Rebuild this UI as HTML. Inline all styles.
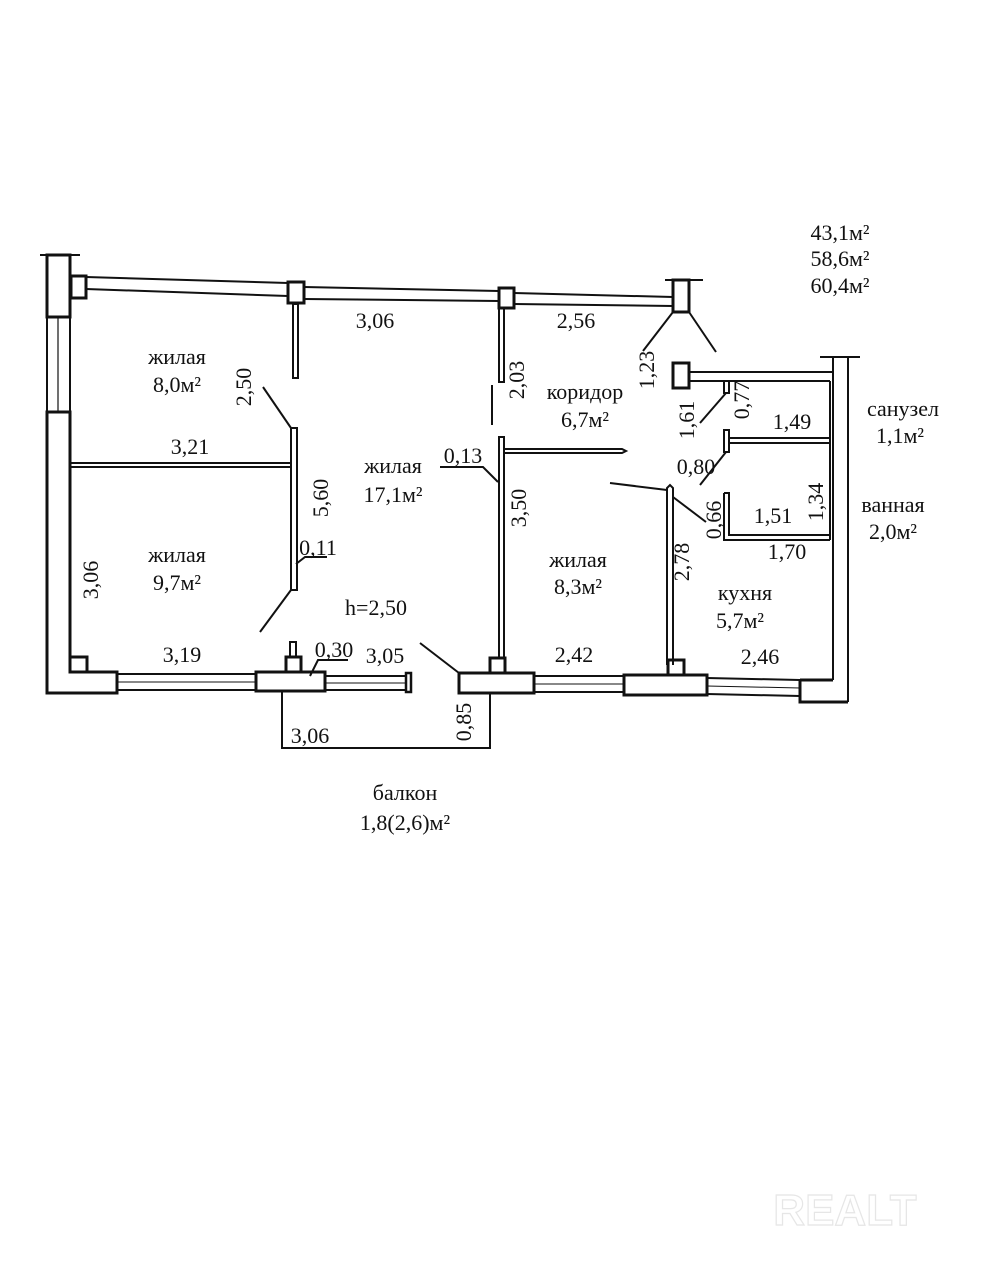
<!DOCTYPE html>
<html><head><meta charset="utf-8"><style>
html,body{margin:0;padding:0;background:#fff;}
svg{display:block}
text{font-family:"Liberation Serif",serif;font-size:22px;fill:#111;}
</style></head><body>
<svg width="988" height="1280" viewBox="0 0 988 1280" xmlns="http://www.w3.org/2000/svg">
<g stroke="#111" stroke-width="2" fill="none">
<line x1="40" y1="255" x2="80" y2="255"/>
<rect x="47" y="255" width="23" height="62" fill="#fff" stroke-width="3"/>
<line x1="47" y1="317" x2="47" y2="412"/><line x1="70" y1="317" x2="70" y2="412"/><line x1="58" y1="317" x2="58" y2="412" stroke-width="1.2"/>
<path d="M47 412 H70 V672 H117 V693 H47 Z" fill="#fff" stroke-width="3"/>
<rect x="70" y="657" width="17" height="15" stroke-width="3"/>
<rect x="71" y="276" width="15" height="22" stroke-width="3"/>
<line x1="86" y1="277" x2="288" y2="283"/><line x1="86" y1="289" x2="288" y2="296"/>
<rect x="288" y="282" width="16" height="21" stroke-width="3"/>
<line x1="304" y1="287" x2="499" y2="291"/><line x1="304" y1="299" x2="499" y2="301"/>
<rect x="499" y="288" width="15" height="20" stroke-width="3"/>
<line x1="514" y1="293" x2="673" y2="297"/><line x1="514" y1="304" x2="673" y2="306"/>
<line x1="665" y1="280" x2="703" y2="280"/>
<rect x="673" y="280" width="16" height="32" stroke-width="3"/>
<line x1="673" y1="312" x2="643" y2="351"/><line x1="689" y1="312" x2="716" y2="352"/>
<rect x="293" y="304" width="5" height="74"/>
<rect x="499" y="308" width="5" height="74"/>
<line x1="492" y1="385" x2="492" y2="425"/>
<line x1="70" y1="463" x2="290" y2="463"/><line x1="70" y1="467" x2="290" y2="467"/>
<rect x="291" y="428" width="6" height="162"/>
<line x1="263" y1="387" x2="291" y2="428"/>
<line x1="291" y1="590" x2="260" y2="632"/>
<rect x="499" y="437" width="5" height="221"/>
<path d="M504 449 H622 L626 451 L622 453 H504"/>
<path d="M667 665 V488 L670 485 L673 488 V665"/>
<line x1="610" y1="483" x2="667" y2="490"/>
<line x1="673" y1="497" x2="706" y2="522"/>
<rect x="673" y="363" width="16" height="25" stroke-width="3"/>
<line x1="689" y1="372" x2="832" y2="372"/><line x1="689" y1="381" x2="830" y2="381"/>
<line x1="830" y1="381" x2="830" y2="540"/>
<rect x="724" y="381" width="5" height="12"/>
<line x1="726" y1="393" x2="700" y2="423"/>
<rect x="724" y="430" width="5" height="22"/>
<line x1="729" y1="438" x2="830" y2="438"/><line x1="729" y1="443" x2="830" y2="443"/>
<line x1="726" y1="452" x2="700" y2="485"/>
<path d="M724 493 H729 V535 H830 M724 493 V540 H830"/>
<line x1="820" y1="357" x2="860" y2="357"/>
<line x1="833" y1="357" x2="833" y2="680"/><line x1="848" y1="357" x2="848" y2="702"/>
<path d="M800 680 H833 M848 702 H800 V680" stroke-width="3"/>
<line x1="117" y1="674" x2="257" y2="674"/><line x1="117" y1="690" x2="257" y2="690"/><line x1="117" y1="682" x2="257" y2="682" stroke-width="1"/>
<rect x="256" y="672" width="69" height="19" fill="#fff" stroke-width="3"/>
<rect x="286" y="657" width="15" height="15" stroke-width="3"/>
<rect x="290" y="642" width="6" height="15"/>
<line x1="325" y1="676" x2="406" y2="676"/><line x1="325" y1="690" x2="406" y2="690"/><line x1="325" y1="683" x2="406" y2="683" stroke-width="1"/>
<rect x="406" y="673" width="5" height="19" stroke-width="2.5"/>
<rect x="459" y="673" width="75" height="20" fill="#fff" stroke-width="3"/>
<rect x="490" y="658" width="15" height="15" stroke-width="3"/>
<line x1="534" y1="676" x2="624" y2="676"/><line x1="534" y1="692" x2="624" y2="692"/><line x1="534" y1="684" x2="624" y2="684" stroke-width="1"/>
<rect x="624" y="675" width="83" height="20" fill="#fff" stroke-width="3"/>
<rect x="668" y="660" width="16" height="15" stroke-width="3"/>
<line x1="707" y1="678" x2="800" y2="680"/><line x1="707" y1="694" x2="800" y2="696"/><line x1="707" y1="686" x2="800" y2="688" stroke-width="1"/>
<line x1="420" y1="643" x2="459" y2="673"/>
<path d="M282 691 V748 H490 V694"/>
<path d="M310 676 L318 660 H348"/>
<path d="M296 564 L305 557 H327"/>
<path d="M440 467 H483 L498 482"/>
</g>
<g text-anchor="middle">
<text x="840" y="240">43,1м²</text>
<text x="840" y="266">58,6м²</text>
<text x="840" y="293">60,4м²</text>
<text x="375" y="328">3,06</text>
<text x="576" y="328">2,56</text>
<text x="177" y="364">жилая</text><text x="177" y="392">8,0м²</text>
<text x="190" y="454">3,21</text>
<text x="393" y="473">жилая</text><text x="393" y="502">17,1м²</text>
<text x="318" y="555">0,11</text>
<text x="177" y="562">жилая</text><text x="177" y="590">9,7м²</text>
<text x="376" y="615">h=2,50</text>
<text x="182" y="662">3,19</text>
<text x="334" y="657">0,30</text>
<text x="385" y="663">3,05</text>
<text x="585" y="399">коридор</text><text x="585" y="427">6,7м²</text>
<text x="792" y="429">1,49</text>
<text x="903" y="416">санузел</text><text x="900" y="443">1,1м²</text>
<text x="463" y="463">0,13</text>
<text x="696" y="474">0,80</text>
<text x="773" y="523">1,51</text>
<text x="893" y="512">ванная</text><text x="893" y="539">2,0м²</text>
<text x="787" y="559">1,70</text>
<text x="578" y="567">жилая</text><text x="578" y="594">8,3м²</text>
<text x="745" y="600">кухня</text><text x="740" y="628">5,7м²</text>
<text x="574" y="662">2,42</text>
<text x="760" y="664">2,46</text>
<text x="310" y="743">3,06</text>
<text x="405" y="800">балкон</text><text x="405" y="830">1,8(2,6)м²</text>
<text transform="translate(251,387) rotate(-90)">2,50</text>
<text transform="translate(328,498) rotate(-90)">5,60</text>
<text transform="translate(98,580) rotate(-90)">3,06</text>
<text transform="translate(524,380) rotate(-90)">2,03</text>
<text transform="translate(654,370) rotate(-90)">1,23</text>
<text transform="translate(694,420) rotate(-90)">1,61</text>
<text transform="translate(749,400) rotate(-90)">0,77</text>
<text transform="translate(526,508) rotate(-90)">3,50</text>
<text transform="translate(721,520) rotate(-90)">0,66</text>
<text transform="translate(823,502) rotate(-90)">1,34</text>
<text transform="translate(689,562) rotate(-90)">2,78</text>
<text transform="translate(471,722) rotate(-90)">0,85</text>
</g>
<text x="845" y="1225" text-anchor="middle" style="font-family:'Liberation Sans',sans-serif;font-size:44px;font-weight:bold;fill:#fff;stroke:#e6e6e6;stroke-width:1.2">REALT</text>
</svg>
</body></html>
